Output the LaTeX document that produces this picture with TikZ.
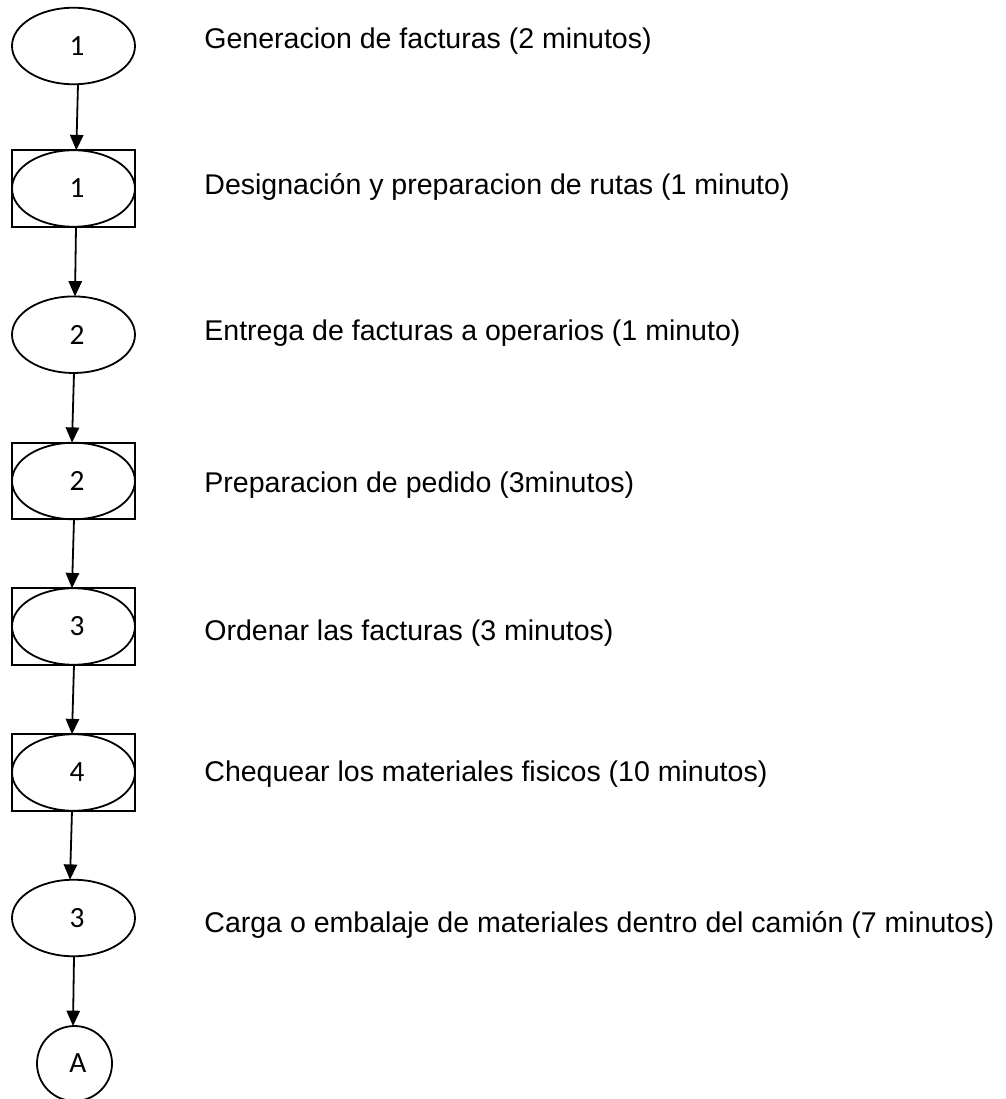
\documentclass[tikz,border=0pt]{standalone}
\usepackage{fontspec}
\setmainfont{Liberation Sans}
\newfontfamily\numfont{Carlito}
\usetikzlibrary{arrows.meta,calc,shapes.geometric}
\begin{document}
\begin{tikzpicture}[x=0.75pt,y=-0.75pt,
  line width=1.35pt,
  oval/.style={draw, ellipse, minimum width=92.25pt, minimum height=57.4pt,
    inner sep=0pt, outer sep=0pt},
  ring/.style={draw, circle, minimum size=56.25pt, inner sep=0pt, outer sep=0pt},
  num/.style={font=\numfont\fontsize{22pt}{26pt}\selectfont, inner sep=0pt,
    xshift=2.6pt},
  desc/.style={font=\fontsize{21.4pt}{25pt}\selectfont, anchor=base west,
    inner sep=0pt},
  flow/.style={-{Triangle[length=11.5pt,width=10pt]}, line width=1.35pt},
]
\fill[white] (0,0) rectangle (1006,1099);
\useasboundingbox (0,0) rectangle (1006,1099);

% operations (ellipses) and combined operation/inspection (ellipse in a box)
\node[oval, label={[num]center:1}] (n1) at (73.5,46) {};
\node[oval, label={[num]center:1}] (n2) at (73.5,188.5) {};
\node[oval, label={[num]center:2}] (n3) at (73.5,334.7) {};
\node[oval, label={[num]center:2}] (n4) at (73.5,481) {};
\node[oval, label={[num]center:3}] (n5) at (73.5,626.5) {};
\node[oval, label={[num]center:4}] (n6) at (73.5,772.5) {};
\node[oval, label={[num]center:3}] (n7) at (73.5,918) {};
\node[ring, label={[num]center:A}] (na) at (74.5,1063.5) {};

\foreach \n in {n2,n4,n5,n6}
  \draw (\n.west |- \n.north) rectangle (\n.east |- \n.south);

% flow connectors
\draw[flow] ($(n1.south)+(4.5,0)$) -- ($(n2.north)+(2.8,0)$);
\draw[flow] ($(n2.south)+(2.5,0)$) -- ($(n3.north)+(1.5,0)$);
\draw[flow] ($(n3.south)+(0.5,0)$) -- ($(n4.north)+(-1.5,0)$);
\draw[flow] ($(n4.south)+(0.5,0)$) -- ($(n5.north)+(-1.5,0)$);
\draw[flow] ($(n5.south)+(0.5,0)$) -- ($(n6.north)+(-1.5,0)$);
\draw[flow] ($(n6.south)+(-1.5,0)$) -- ($(n7.north)+(-3.5,0)$);
\draw[flow] ($(n7.south)+(0.5,0)$) -- ($(na.north)+(-1.5,0)$);

% step descriptions
\node[desc] (t1) at (203.5,49) {Generacion de facturas (2 minutos)};
\node[desc] (t2) at (203.5,194) {Designación y preparacion de rutas (1 minuto)};
\node[desc] (t3) at (203.5,340) {Entrega de facturas a operarios (1 minuto)};
\node[desc] (t4) at (203.5,492) {Preparacion de pedido (3minutos)};
\node[desc] (t5) at (203.5,640) {Ordenar las facturas (3 minutos)};
\node[desc] (t6) at (203.5,781) {Chequear los materiales fisicos (10 minutos)};
\node[desc] (t7) at (203.5,932) {Carga o embalaje de materiales dentro del camión (7 minutos)};
\end{tikzpicture}
\end{document}
